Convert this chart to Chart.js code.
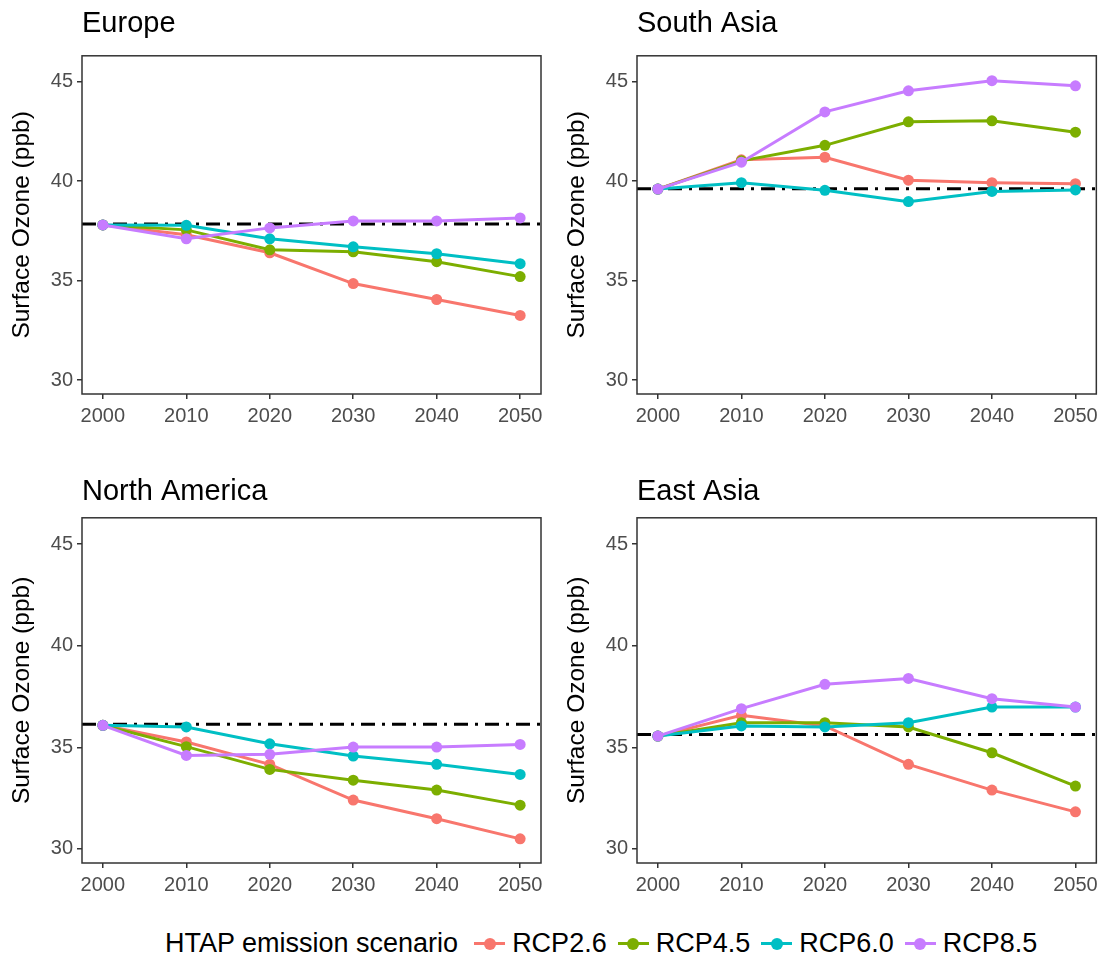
<!DOCTYPE html>
<html>
<head>
<meta charset="utf-8">
<script src="https://cdn.jsdelivr.net/npm/chart.js@4.4.1/dist/chart.umd.min.js"></script>
<style>
  body { margin: 0; background: #fff; }
  #wrap { position: relative; width: 1103px; height: 977px; overflow: hidden; font-family: 'Liberation Sans', Arial, sans-serif; }
  .panel { position: absolute; }
  #legend { position: absolute; left: 165px; top: 925px; height: 36px; display: flex; align-items: center; font-size: 27px; color: #000; white-space: nowrap; }
  #legend .key { position: relative; display: inline-block; width: 31px; height: 14px; margin: 0 7px 0 11px; }
  #legend .key.first { margin-left: 16px; }
  #legend .key .ln { position: absolute; left: 0; right: 0; top: 5.5px; height: 3px; }
  #legend .key .dot { position: absolute; left: 9.5px; top: 1.5px; width: 12px; height: 12px; border-radius: 50%; }
</style>
</head>
<body>
<div id="wrap">
  <div class="panel" style="left:0;top:0"><canvas id="c0" width="551" height="440"></canvas></div>
  <div class="panel" style="left:551px;top:0"><canvas id="c1" width="552" height="440"></canvas></div>
  <div class="panel" style="left:0;top:462px"><canvas id="c2" width="551" height="447"></canvas></div>
  <div class="panel" style="left:551px;top:462px"><canvas id="c3" width="552" height="447"></canvas></div>
  <div id="legend"></div>
</div>
<script>
// --- data ---
const years = [2000, 2010, 2020, 2030, 2040, 2050];
const yTicks = [30, 35, 40, 45];
const scenarios = ['RCP2.6', 'RCP4.5', 'RCP6.0', 'RCP8.5'];
const regions = ['Europe', 'South Asia', 'North America', 'East Asia'];

// rows: RCP2.6, RCP4.5, RCP6.0, RCP8.5
const europe = [
    [37.8, 37.3, 36.4, 34.85, 34.05, 33.25],
    [37.8, 37.55, 36.55, 36.45, 35.95, 35.2],
    [37.8, 37.78, 37.1, 36.7, 36.35, 35.85],
    [37.8, 37.1, 37.65, 38.0, 38.0, 38.15]
];
const southAsia = [
    [39.6, 41.07, 41.2, 40.05, 39.92, 39.87],
    [39.6, 41.02, 41.8, 42.98, 43.03, 42.46],
    [39.6, 39.92, 39.54, 38.97, 39.48, 39.56],
    [39.6, 40.95, 43.48, 44.54, 45.05, 44.79]
];
const northAmerica = [
    [36.08, 35.26, 34.16, 32.4, 31.48, 30.49],
    [36.08, 35.03, 33.91, 33.38, 32.89, 32.15],
    [36.08, 36.0, 35.17, 34.57, 34.16, 33.66],
    [36.08, 34.6, 34.65, 35.01, 35.01, 35.14]
];
const eastAsia = [
    [35.55, 36.57, 36.05, 34.16, 32.89, 31.82],
    [35.55, 36.21, 36.21, 36.0, 34.73, 33.09],
    [35.55, 36.05, 36.0, 36.21, 36.98, 36.98],
    [35.55, 36.9, 38.1, 38.39, 37.39, 36.98]
];
// 2000 reference level (dash-dot line)
const baselines = [37.85, 39.62, 36.13, 35.63];

const regionData = [europe, southAsia, northAmerica, eastAsia];
const colors = ['#F8766D', '#7CAE00', '#00BFC4', '#C77CFF'];

const FONT = "'Liberation Sans', Arial, sans-serif";
const X_MIN = 1997.5, X_MAX = 2052.5;

// panel layout: y-axis width, right padding, title padding
const panels = [
    { yw: 82, pr: 10, tp: { top: 7, bottom: 14 }, ytp: 8 },
    { yw: 86, pr: 5,  tp: { top: 7, bottom: 14 }, ytp: 12 },
    { yw: 82, pr: 10, tp: { top: 13, bottom: 8 }, ytp: 8 },
    { yw: 86, pr: 5,  tp: { top: 13, bottom: 8 }, ytp: 12 }
];

// full frame around the plotting area
const frame = {
    id: 'frame',
    afterDatasetsDraw(chart) {
        const a = chart.chartArea, ctx = chart.ctx;
        ctx.save();
        ctx.strokeStyle = '#333333';
        ctx.lineWidth = 1.5;
        ctx.strokeRect(a.left, a.top, a.right - a.left, a.bottom - a.top);
        ctx.restore();
    }
};

function buildChart(i) {
    const p = panels[i];
    const datasets = [];
    scenarios.forEach((s, k) => {
        datasets.push({
            label: s,
            data: years.map((yr, j) => ({ x: yr, y: regionData[i][k][j] })),
            borderColor: colors[k],
            backgroundColor: colors[k],
            borderWidth: 3,
            pointRadius: 5.5,
            pointBorderWidth: 0,
            pointHoverRadius: 5.5,
            order: 4 - k
        });
    });
    datasets.push({
        label: 'baseline',
        data: [{ x: X_MIN, y: baselines[i] }, { x: X_MAX, y: baselines[i] }],
        borderColor: '#000',
        borderWidth: 3,
        borderDash: [14, 7, 3, 7],
        pointRadius: 0,
        order: 10
    });

    new Chart(document.getElementById('c' + i), {
        type: 'line',
        data: { datasets },
        options: {
            responsive: false,
            animation: false,
            events: [],
            layout: { padding: { left: 0, right: p.pr, top: 0, bottom: 0 } },
            plugins: {
                legend: { display: false },
                tooltip: { enabled: false },
                title: {
                    display: true,
                    text: regions[i],
                    align: 'start',
                    fullSize: false,
                    color: '#000',
                    font: { family: FONT, size: 29, weight: 'normal' },
                    padding: p.tp
                }
            },
            scales: {
                x: {
                    type: 'linear',
                    min: X_MIN,
                    max: X_MAX,
                    afterBuildTicks: sc => { sc.ticks = years.map(v => ({ value: v })); },
                    afterFit: sc => { sc.height = 46; },
                    grid: { drawOnChartArea: false, drawTicks: true, tickLength: 5, color: '#333333', lineWidth: 1.5 },
                    border: { display: false },
                    ticks: {
                        color: '#4D4D4D',
                        padding: 5,
                        maxRotation: 0,
                        font: { family: FONT, size: 20 },
                        callback: v => String(v)
                    }
                },
                y: {
                    min: 29.3,
                    max: 46.3,
                    afterBuildTicks: sc => { sc.ticks = yTicks.map(v => ({ value: v })); },
                    afterFit: sc => { sc.width = p.yw; },
                    grid: { drawOnChartArea: false, drawTicks: true, tickLength: 5, color: '#333333', lineWidth: 1.5 },
                    border: { display: false },
                    ticks: {
                        color: '#4D4D4D',
                        padding: 4,
                        font: { family: FONT, size: 20 },
                        callback: v => String(v)
                    },
                    title: {
                        display: true,
                        text: 'Surface Ozone (ppb)',
                        color: '#000',
                        font: { family: FONT, size: 24.5 },
                        padding: { top: p.ytp, bottom: 0 }
                    }
                }
            }
        },
        plugins: [frame]
    });
}

regions.forEach((r, i) => buildChart(i));

// shared legend below the panels
const legend = document.getElementById('legend');
legend.innerHTML = '<span>HTAP emission scenario</span>' + scenarios.map((s, k) =>
    '<span class="key' + (k === 0 ? ' first' : '') + '"><i class="ln" style="background:' + colors[k] + '"></i>' +
    '<i class="dot" style="background:' + colors[k] + '"></i></span><span>' + s + '</span>'
).join('');
</script>
</body>
</html>
